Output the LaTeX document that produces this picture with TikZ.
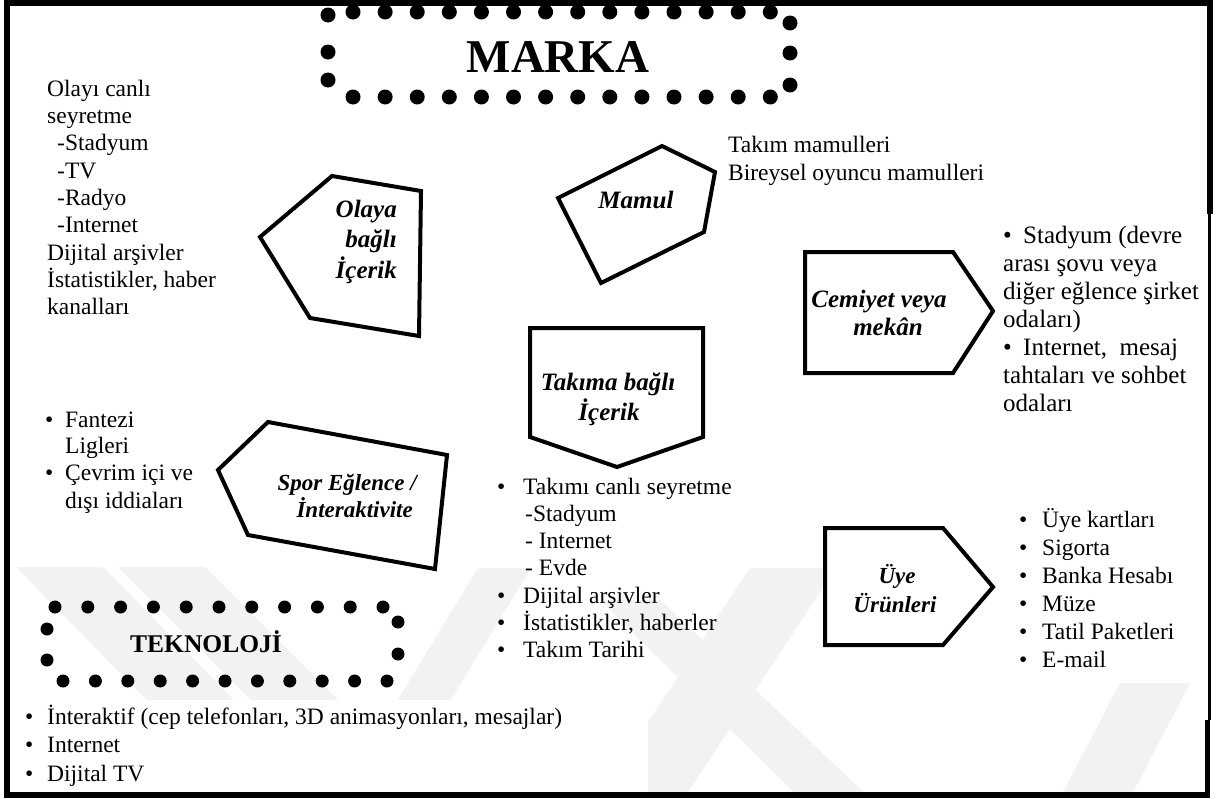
\documentclass[tikz,border=0pt]{standalone}
\usepackage{fontspec}
\setmainfont{Liberation Serif}
\definecolor{wmark}{HTML}{F2F2F2}
\begin{document}
\begin{tikzpicture}[x=1pt,y=-1pt,
  body/.style={font=\fontsize{23.5}{27.5}\selectfont, inner sep=0pt, anchor=base west},
  wide/.style={font=\fontsize{25}{28}\selectfont, inner sep=0pt, anchor=base west},
  lbl/.style={font=\fontsize{25}{30}\selectfont\bfseries\itshape, inner sep=0pt},
  lblsmall/.style={font=\fontsize{23}{28}\selectfont\bfseries\itshape, inner sep=0pt},
  pent/.style={draw=black, line width=4pt, line join=miter, fill=white},
  bigdot/.style={fill=black},
]
\useasboundingbox (0,0) rectangle (1225,798);
\fill[white] (0,0) rectangle (1225,798);

% faint background stripes
\begin{scope}[wmark]
  \fill (16,567) -- (103,567) -- (330,798) -- (243,798) -- cycle;
  \fill (118,567) -- (205,567) -- (436,798) -- (349,798) -- cycle;
  \fill (478,568) -- (531,568) -- (391,798) -- (338,798) -- cycle;
  \fill (750,568) -- (836,568) -- (684,798) -- (598,798) -- cycle;
  \fill (600,600) -- (660,600) -- (870,798) -- (800,798) -- cycle;
  \fill (1120,683) -- (1190,683) -- (1130,798) -- (1060,798) -- cycle;
\end{scope}
% white panel behind the technology list
\fill[white] (10,700) rectangle (648,792);

% outer frame
\fill (4,0) rectangle (10,798);
\fill (4,0) rectangle (1213,6);
\fill (1207,0) rectangle (1213,214);
\fill (1208,214) rectangle (1211,720);
\fill (1205,720) rectangle (1210,798);
\fill (4,792) rectangle (1210,798);

% dotted frame of the title
\foreach \i in {0,...,13} {
  \fill[bigdot] (353+32.1*\i,12) circle (7.5);
  \fill[bigdot] (353+32.1*\i,97) circle (7.5);
}
\foreach \y in {15,52,80} \fill[bigdot] (328,\y) circle (7.5);
\foreach \y in {23,53,85} \fill[bigdot] (790,\y) circle (7.5);
\node[font=\fontsize{47}{50}\selectfont\bfseries, inner sep=0pt, anchor=base] (marka) at (558,72) {MARKA};

% dotted frame of the technology label
\foreach \i in {0,...,10} {
  \fill[bigdot] (55+32.8*\i,607) circle (6.5);
  \fill[bigdot] (63+32.4*\i,681) circle (6.5);
}
\foreach \y in {629,660} \fill[bigdot] (47,\y) circle (6.5);
\foreach \y in {622,654} \fill[bigdot] (398,\y) circle (6.5);
\node[font=\fontsize{25.5}{28}\selectfont\bfseries, inner sep=0pt, anchor=base] (tekno) at (206,652) {TEKNOLOJİ};

% pentagon shapes
\draw[pent] (332,176) -- (421,191) -- (419,336) -- (310,318) -- (260,237) -- cycle;
\draw[pent] (662,146) -- (715,172) -- (704,232) -- (601,283) -- (558,198) -- cycle;
\draw[pent] (805,252) -- (953,252) -- (993,311) -- (953,373) -- (805,373) -- cycle;
\draw[pent] (530,328) -- (703,328) -- (703,437) -- (617,467) -- (530,437) -- cycle;
\draw[pent] (268,422) -- (447,455) -- (435,569) -- (248,535) -- (218,470) -- cycle;
\draw[pent] (825,528) -- (943,528) -- (993,587) -- (943,645) -- (825,645) -- cycle;

% labels inside the shapes
\node[lbl, anchor=base east] (olaya1) at (397,217) {Olaya};
\node[lbl, anchor=base east] (olaya2) at (397,247) {bağlı};
\node[lbl, anchor=base east] (olaya3) at (397,278) {İçerik};
\node[lbl, anchor=base] (mamul) at (636,208) {Mamul};
\node[lbl, anchor=base] (cemiyet1) at (879,307) {Cemiyet veya};
\node[lbl, anchor=base] (cemiyet2) at (888,335) {mekân};
\node[lbl, anchor=base] (takim1) at (608,390) {Takıma bağlı};
\node[lbl, anchor=base] (takim2) at (609,420) {İçerik};
\node[lblsmall, anchor=base east] (spor1) at (417,490) {Spor Eğlence /};
\node[lblsmall, anchor=base east] (spor2) at (413,517) {İnteraktivite};
\node[lblsmall, anchor=base] (uye1) at (897,583) {Üye};
\node[lblsmall, anchor=base] (uye2) at (895,612) {Ürünleri};

% text beside the shapes
\foreach \t [count=\i] in {Olayı canlı, seyretme, \hspace*{10pt}-Stadyum, \hspace*{10pt}-TV,
    \hspace*{10pt}-Radyo, \hspace*{10pt}-Internet, Dijital arşivler, {İstatistikler, haber}, kanalları}
  \node[body] (olaytxt\i) at (47,96+27.35*\i-27.35) {\t};

\node[body] (mamultxt1) at (728,152) {Takım mamulleri};
\node[body] (mamultxt2) at (728,180) {Bireysel oyuncu mamulleri};

\foreach \t [count=\i] in {\makebox[20pt][l]{•}Stadyum (devre, arası şovu veya, diğer eğlence şirket,
    odaları), {\makebox[20pt][l]{•}Internet,\ \ mesaj}, tahtaları ve sohbet, odaları}
  \node[wide] (cemtxt\i) at (1003,243+28.1*\i-28.1) {\t};

\node[body] (sportxt1) at (45,427) {\makebox[20pt][l]{•}Fantezi};
\node[body] (sportxt2) at (65,453) {Ligleri};
\node[body] (sportxt3) at (45,480) {\makebox[20pt][l]{•}Çevrim içi ve};
\node[body] (sportxt4) at (65,508) {dışı iddiaları};

\foreach \t [count=\i] in {\makebox[26pt][l]{•}Takımı canlı seyretme, \hspace*{28pt}-Stadyum,
    \hspace*{28pt}- Internet, \hspace*{28pt}- Evde, \makebox[26pt][l]{•}Dijital arşivler,
    {\makebox[26pt][l]{•}İstatistikler, haberler}, \makebox[26pt][l]{•}Takım Tarihi}
  \node[body] (takimtxt\i) at (497,494+27.3*\i-27.3) {\t};

\foreach \t [count=\i] in {Üye kartları, Sigorta, Banka Hesabı, Müze, Tatil Paketleri, E-mail}
  \node[body] (uyetxt\i) at (1019,527+28*\i-28) {\makebox[23pt][l]{•}\t};

\foreach \t [count=\i] in {{İnteraktif (cep telefonları, 3D animasyonları, mesajlar)}, Internet, Dijital TV}
  \node[body] (teknotxt\i) at (25,724+28.7*\i-28.7) {\makebox[22pt][l]{•}\t};
\end{tikzpicture}
\end{document}
